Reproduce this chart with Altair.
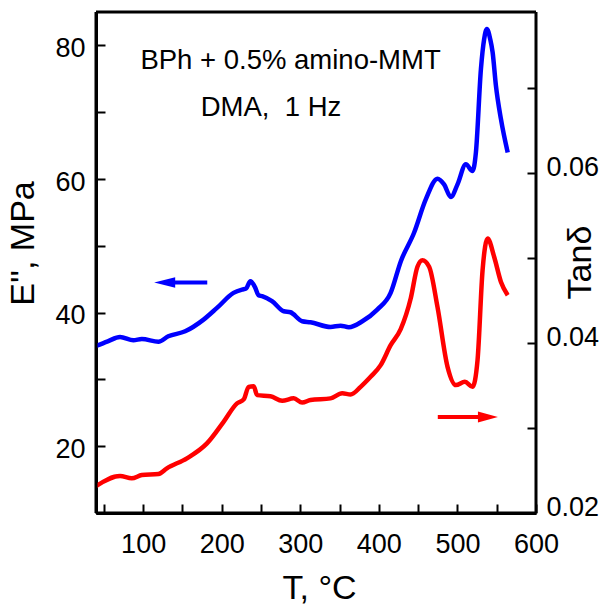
import altair as alt
import pandas as pd

# ---- data ----
T_blue = [40, 55, 70.6, 87.6, 98.3, 119.5, 132, 153.5, 176.9, 194, 215, 225.9, 231,
          236.5, 242, 247, 251.4, 264, 279, 287.5, 302.4, 313, 338.5, 351.3, 361.8,
          379, 398, 415, 428, 444.8, 459.7, 474.6, 483, 491.6, 500.1, 510.7, 519.3,
          523.5, 529.9, 534, 537.5, 541.7, 544.8, 549, 555.4, 564]
E_blue = [35.0, 35.7, 36.35, 35.85, 36.05, 35.65, 36.45, 37.2, 38.95, 40.7, 42.95, 43.45, 43.6,
          44.7, 43.9, 42.6, 42.45, 41.7, 40.2, 40.05, 38.7, 38.55, 37.85, 38.05, 37.8,
          38.7, 40.45, 42.95, 47.7, 51.95, 56.95, 60.05, 59.2, 57.3, 59.2, 62.2, 61.2,
          63.95, 76.45, 80.95, 82.45, 80.95, 78.95, 73.95, 68.95, 63.95]

T_red = [40, 70.6, 85.5, 98.3, 119.5, 130.2, 155.7, 181.2, 202.4, 219.5, 228, 234.3,
         240.7, 245, 262, 276.9, 291.7, 302.4, 313, 338.5, 353.4, 364, 376.8, 389.5,
         402.3, 415, 427.8, 440.6, 449.1, 455.5, 464, 474.6, 487.4, 498, 509.5, 519.3,
         525.6, 532, 538.4, 546.8, 555.4, 564]
tan_red = [0.02318, 0.02435, 0.02408, 0.02447, 0.02459, 0.02526, 0.02644, 0.0282, 0.03074,
           0.03291, 0.03338, 0.03486, 0.03494, 0.03388, 0.03376, 0.03321, 0.0335, 0.0330,
           0.0333, 0.0335, 0.0341, 0.03396, 0.03486, 0.03604, 0.03741, 0.03976, 0.04165,
           0.04529, 0.0490, 0.04976, 0.0490, 0.04427, 0.03721, 0.03506, 0.03545, 0.03486,
           0.038, 0.04859, 0.05232, 0.05015, 0.04721, 0.04565]

x_ticks = [50, 100, 150, 200, 250, 300, 350, 400, 450, 500, 550, 600]
e_ticks = [10, 20, 30, 40, 50, 60, 70, 80]
tan_ticks = [0.02, 0.03, 0.04, 0.05, 0.06, 0.07]

T_range = [40, 600]
E_range = [10, 85]
tan_range = [0.02, 0.079]

notes_T = [287.6, 262.7]
notes_E = [77.6, 70.63]
notes_text = ["BPh + 0.5% amino-MMT", "DMA,\u00a0 1 Hz"]

blue_arrow = {"x1": 130, "x2": 181.6, "head": 127.4, "y": 44.5}
red_arrow = {"x1": 475, "x2": 530, "head": 538.8, "y": 0.0313}

# ---- chart ----
FONT = "Liberation Sans"
TICK = 9
BLUE = "#0000FF"
RED = "#FF0000"

blue_df = pd.DataFrame({"T": T_blue, "E": E_blue})
red_df = pd.DataFrame({"T": T_red, "tan": tan_red})
notes_df = pd.DataFrame({"T": notes_T, "E": notes_E, "txt": notes_text})
barrow_df = pd.DataFrame([blue_arrow])
rarrow_df = pd.DataFrame([red_arrow])
# frame edges: left, bottom, top, right
frame_df = pd.DataFrame({
    "x1": [T_range[0], T_range[0], T_range[0], T_range[1]],
    "x2": [T_range[0], T_range[1], T_range[1], T_range[1]],
    "y1": [E_range[0], E_range[0], E_range[1], E_range[0]],
    "y2": [E_range[1], E_range[0], E_range[1], E_range[1]],
})

xscale = alt.Scale(domain=T_range, nice=False, zero=False)
escale = alt.Scale(domain=E_range, nice=False, zero=False)
tscale = alt.Scale(domain=tan_range, nice=False, zero=False)

common = dict(domain=False, grid=False, tickColor="black", tickWidth=2,
              labelFont=FONT, labelFontSize=27, labelColor="black", labelOverlap=False,
              labelFlush=False, titleFont=FONT, titleFontSize=34, titleFontWeight="normal",
              titleColor="black")

x_axis = alt.Axis(values=x_ticks, orient="bottom", offset=-TICK, tickSize=TICK,
                  labelExpr="datum.value % 100 == 0 ? datum.label : ''", labelPadding=18,
                  title="T, \u00b0C", titleX=223, titleY=101, titleAlign="center",
                  titleBaseline="bottom", **common)
e_axis = alt.Axis(values=e_ticks, orient="left", offset=-TICK, tickSize=TICK,
                  labelExpr="datum.value % 20 == 0 ? datum.label : ''", labelPadding=11,
                  labelOffset=3,
                  title="E'', MPa", titleX=-82, titleY=231, titleAngle=270,
                  titleAlign="center", titleBaseline="middle", **common)
t_axis = alt.Axis(values=tan_ticks, orient="right", offset=-TICK, tickSize=TICK,
                  labelExpr="round(datum.value * 100) % 2 == 0 ? format(datum.value, '.2f') : ''",
                  labelPadding=10, labelOffset=-6,
                  title="Tan\u03b4", titleX=53, titleY=250, titleAngle=270,
                  titleAlign="center", titleBaseline="middle", **common)

# plain domain lines at the plot edges (frame)
edge_common = dict(domain=True, domainColor="black", domainWidth=3, ticks=False,
                   labels=False, grid=False, title="", offset=0)
x_edge = alt.Axis(orient="bottom", **edge_common)
y_edge = alt.Axis(orient="left", **edge_common)

frame = alt.Chart(frame_df).mark_rule(color="black", strokeWidth=3).encode(
    x=alt.X("x1:Q", scale=xscale, axis=x_edge),
    x2="x2:Q",
    y=alt.Y("y1:Q", scale=escale, axis=y_edge),
    y2="y2:Q",
)
blue_line = alt.Chart(blue_df).mark_line(color=BLUE, strokeWidth=4.5, interpolate="monotone").encode(
    x=alt.X("T:Q", scale=xscale, axis=x_axis),
    y=alt.Y("E:Q", scale=escale, axis=e_axis),
)
blue_rule = alt.Chart(barrow_df).mark_rule(color=BLUE, strokeWidth=4).encode(
    x=alt.X("x1:Q", scale=xscale, axis=None),
    x2="x2:Q",
    y=alt.Y("y:Q", scale=escale, axis=None),
)
blue_head = alt.Chart(barrow_df).mark_point(
    shape="M -1 0 L 1 -0.5 L 1 0.5 Z", filled=True, color=BLUE, opacity=1, size=441
).encode(
    x=alt.X("head:Q", scale=xscale, axis=None),
    y=alt.Y("y:Q", scale=escale, axis=None),
)
notes = alt.Chart(notes_df).mark_text(
    font=FONT, fontSize=27.5, color="black", align="center", baseline="middle"
).encode(
    x=alt.X("T:Q", scale=xscale, axis=None),
    y=alt.Y("E:Q", scale=escale, axis=None),
    text="txt:N",
)

red_line = alt.Chart(red_df).mark_line(color=RED, strokeWidth=4.5, interpolate="monotone").encode(
    x=alt.X("T:Q", scale=xscale, axis=None),
    y=alt.Y("tan:Q", scale=tscale, axis=t_axis),
)
red_rule = alt.Chart(rarrow_df).mark_rule(color=RED, strokeWidth=4).encode(
    x=alt.X("x1:Q", scale=xscale, axis=None),
    x2="x2:Q",
    y=alt.Y("y:Q", scale=tscale, axis=None),
)
red_head = alt.Chart(rarrow_df).mark_point(
    shape="M 1 0 L -1 -0.55 L -1 0.55 Z", filled=True, color=RED, opacity=1, size=400
).encode(
    x=alt.X("head:Q", scale=xscale, axis=None),
    y=alt.Y("y:Q", scale=tscale, axis=None),
)

chart = alt.layer(
    blue_line, red_line, blue_rule, blue_head, notes, red_rule, red_head, frame
).resolve_scale(x="independent", y="independent").properties(
    width=440, height=501,
    autosize=alt.AutoSizeParams(type="none"),
    padding={"left": 96, "top": 12, "right": 68, "bottom": 96},
    background="white",
).configure_view(strokeWidth=0)

chart.save("out.html", embed_options={"renderer": "svg", "actions": False})
